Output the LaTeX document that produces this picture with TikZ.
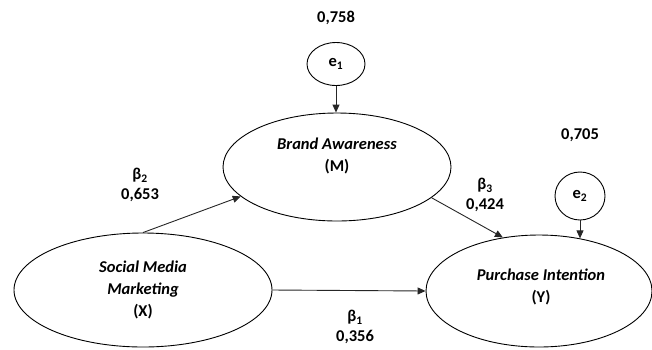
\documentclass[tikz,border=0pt]{standalone}
\usepackage{fontspec}
\setmainfont{Carlito}
\usetikzlibrary{shapes.geometric,arrows.meta}
\tikzset{
  latent/.style={draw=black, line width=0.9pt, ellipse, inner sep=0pt},
  latenttext/.style={font=\bfseries\itshape\fontsize{16.5}{22}\selectfont, align=center, inner sep=0pt},
  errnode/.style={draw=black, line width=0.9pt, ellipse, inner sep=0pt, font=\bfseries\fontsize{16.5}{22}\selectfont},
  lbl/.style={font=\bfseries\fontsize{16.5}{20}\selectfont, inner sep=0pt, align=center},
  conn/.style={draw=black!85, line width=0.9pt, -{Triangle[length=8pt,width=7pt]}}
}
\begin{document}
\begin{tikzpicture}[x=1pt,y=-1pt]
\useasboundingbox (0,0) rectangle (652,349);
% latent variables
\node[latent, minimum width=228pt, minimum height=108pt] (M) at (337,167) {};
\node[latenttext] (Mt) at (337,156) {Brand Awareness\\\upshape(M)};
\node[latent, minimum width=258pt, minimum height=114pt] (X) at (143,290) {};
\node[latenttext] (Xt) at (143,290) {Social Media\\Marketing\\\upshape(X)};
\node[latent, minimum width=226pt, minimum height=112pt] (Y) at (539,291) {};
\node[latenttext] (Yt) at (541,287) {Purchase Intention\\\upshape(Y)};
% error terms
\node[errnode, minimum width=58pt, minimum height=43pt] (e1) at (336,64) {e\textsubscript{1}};
\node[errnode, minimum width=50pt, minimum height=48pt] (e2) at (580,196) {e\textsubscript{2}};
% labels
\node[lbl] (l1) at (336,18) {0,758};
\node[lbl] (l2) at (580,135) {0,705};
\node[lbl] (b2) at (140,185) {β\textsubscript{2}\\0,653};
\node[lbl] (b3) at (485,195) {β\textsubscript{3}\\0,424};
\node[lbl] (b1) at (355,327) {β\textsubscript{1}\\0,356};
% connectors
\draw[conn] (e1.south) -- (e1.south |- M.north);
\draw[conn] (e2.south) -- (e2.south |- Y.52);
\draw[conn] (X.north) -- (M.197.5);
\draw[conn] (M.-18) -- (Y.124);
\draw[conn] (X.east) -- (Y.west);
\end{tikzpicture}
\end{document}
